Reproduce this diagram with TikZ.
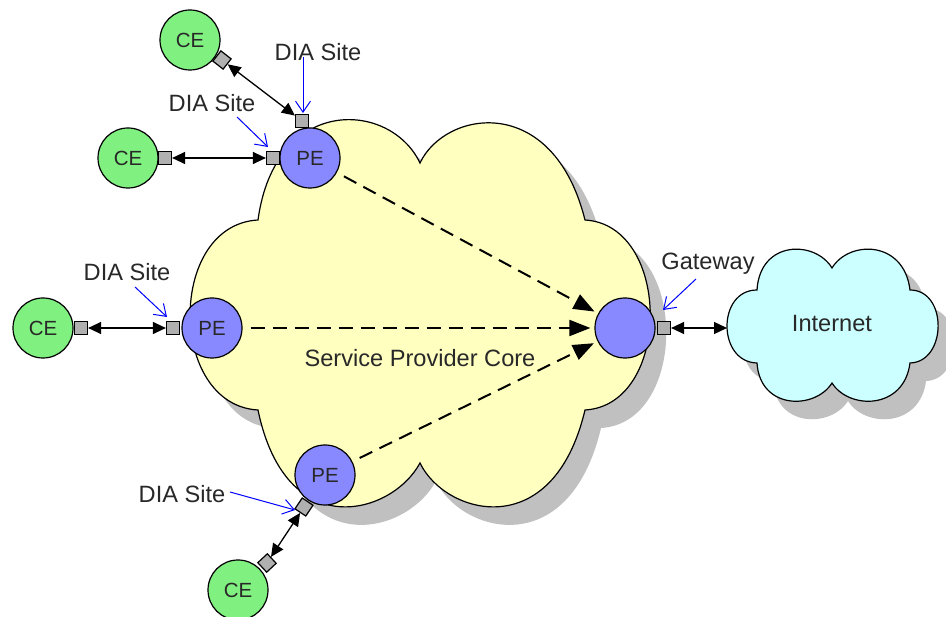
\documentclass[tikz,border=0pt]{standalone}
\usepackage{fontspec}
\setmainfont{Liberation Sans}
\usetikzlibrary{arrows.meta,calc}
\definecolor{cegreen}{RGB}{128,240,128}
\definecolor{peblue}{RGB}{136,136,255}
\definecolor{cloudyellow}{RGB}{255,255,192}
\definecolor{inetcyan}{RGB}{204,255,255}
\definecolor{shadowgray}{RGB}{192,192,192}
\definecolor{portgray}{RGB}{176,176,176}
\definecolor{ptrblue}{RGB}{0,0,255}
\definecolor{txtgray}{RGB}{40,40,40}
\newcommand\SPCloudPath{(258,220) .. controls (275,95) and (390,100) .. (420,163)
 .. controls (445,110) and (553,92) .. (585,220)
 .. controls (672,225) and (672,405) .. (585,410)
 .. controls (553,545) and (445,515) .. (420,463)
 .. controls (392,515) and (286,545) .. (258,410)
 .. controls (168,405) and (167,225) .. cycle}
\newcommand\InetCloudPath{(757,290) .. controls (760,240) and (815,240) .. (832,268)
 .. controls (849,240) and (904,240) .. (910,290)
 .. controls (948,290) and (947,362) .. (910,363)
 .. controls (904,410) and (849,410) .. (832,383)
 .. controls (815,410) and (760,410) .. (757,363)
 .. controls (717,362) and (717,290) .. cycle}
\begin{document}
\begin{tikzpicture}[x=1pt,y=-1pt,
  every node/.style={font=\fontsize{23.6}{26}\selectfont, text=txtgray},
  ce/.style={circle, draw=black, line width=1.2pt, fill=cegreen, minimum size=60pt, inner sep=0pt, font=\fontsize{20.5}{22}\selectfont},
  pe/.style={ce, fill=peblue},
  port/.style={rectangle, draw=black, line width=1.2pt, fill=portgray, minimum size=13pt, inner sep=0pt},
  link/.style={draw=black, line width=1.3pt, {Triangle[length=13pt,width=12pt]}-{Triangle[length=13pt,width=12pt]}},
  flow/.style={draw=black, line width=2pt, dash pattern=on 14pt off 8pt, shorten <=8pt, shorten >=4pt, -{Triangle[length=21pt,width=16pt]}},
  ptr/.style={draw=ptrblue, line width=1pt, -{Straight Barb[length=11pt,width=15pt]}},
  lbl/.style={inner sep=0pt},
  cloudline/.style={draw=black, line width=1.2pt},
  shadowfill/.style={fill=shadowgray}]
\fill[white] (0,0) rectangle (946,617);
\useasboundingbox (0,0) rectangle (946,617);
% clouds with shadows
\begin{scope}[shift={(16,18)}]
  \fill[shadowfill] \SPCloudPath;
  \fill[shadowfill] \InetCloudPath;
\end{scope}
\filldraw[cloudline, fill=cloudyellow] \SPCloudPath;
\filldraw[cloudline, fill=inetcyan] \InetCloudPath;
\node (spc) at (420,358) {Service Provider Core};
\node (inet) at (832,323) {Internet};
\coordinate (inetw) at (727,328);
% nodes
\node[ce] (ce1) at (190,40) {CE};
\node[ce] (ce2) at (128,158) {CE};
\node[ce] (ce3) at (43,328) {CE};
\node[ce] (ce4) at (238,590) {CE};
\node[pe] (pe1) at (310,158) {PE};
\node[pe] (pe2) at (212,328) {PE};
\node[pe] (pe3) at (325,475) {PE};
\node[pe] (gw) at (625,328) {};
% flows
\draw[flow] (pe1) -- (gw);
\draw[flow] (pe2) -- (gw);
\draw[flow] (pe3) -- (gw);
% ports
\node[port, rotate=-38] (ce1p) at (222,60) {};
\node[port] (ce2p) at (165,158) {};
\node[port] (ce3p) at (81,328) {};
\node[port, rotate=43] (ce4p) at (267,563) {};
\node[port] (pe1t) at (302,121) {};
\node[port] (pe1l) at (273,158) {};
\node[port] (pe2p) at (173,328) {};
\node[port, rotate=-34] (pe3p) at (304,507) {};
\node[port] (gwp) at (664,328) {};
% links
\draw[link] (ce1p) -- (pe1t);
\draw[link] (ce2p) -- (pe1l);
\draw[link] (ce3p) -- (pe2p);
\draw[link] (ce4p) -- (pe3p);
\draw[link] (gwp) -- (inetw);
% labels
\node[lbl] (l1) at (318,52) {DIA Site};
\node[lbl] (l2) at (212,103) {DIA Site};
\node[lbl] (l3) at (127,272) {DIA Site};
\node[lbl] (l4) at (182,494) {DIA Site};
\node[lbl] (l5) at (708,264) {Gateway};
\draw[ptr] ($(l1.center)+(-15,5)$) -- ($(pe1t.center)+(1,-8)$);
\draw[ptr] ($(l2.center)+(25,14)$) -- ($(pe1l.center)+(-5,-11)$);
\draw[ptr] ($(l3.center)+(8,15)$) -- ($(pe2p.center)+(-6,-11)$);
\draw[ptr] ($(l4.center)+(48,-2)$) -- ($(pe3p.center)+(-9,3)$);
\draw[ptr] ($(l5.center)+(-12,15)$) -- ($(gwp.center)+(-1,-18)$);
\end{tikzpicture}
\end{document}
